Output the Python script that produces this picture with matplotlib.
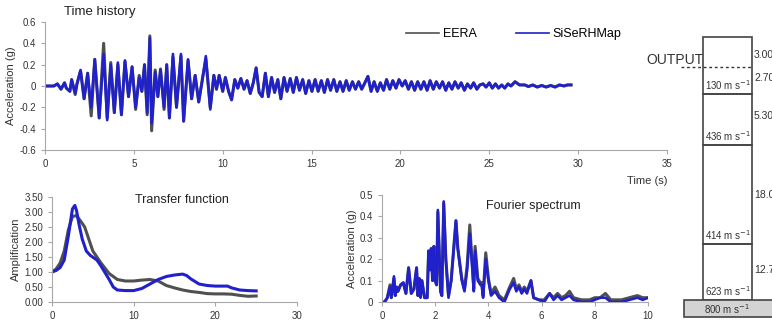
import matplotlib.pyplot as plt
from matplotlib.ticker import FuncFormatter
import matplotlib.patches as mpatches

plt.rcParams.update({
    "font.family": ["Liberation Sans", "DejaVu Sans"],
    "axes.spines.top": False,
    "axes.spines.right": False,
    "axes.edgecolor": "#a8a8a8",
    "axes.linewidth": 0.8,
    "xtick.color": "#a8a8a8",
    "ytick.color": "#a8a8a8",
    "xtick.labelcolor": "#333333",
    "ytick.labelcolor": "#333333",
    "xtick.labelsize": 7,
    "ytick.labelsize": 7,
    "xtick.major.size": 3,
    "ytick.major.size": 3,
    "axes.labelsize": 8,
    "axes.labelcolor": "#333333",
})
GREY = "#505050"
BLUE = "#2020cc"

# time history (turning points), seconds / g
th_head_time = [0, 0.5, 0.7, 0.9, 1.1, 1.2, 1.4, 1.5, 1.7, 1.8, 2.0, 2.2, 2.4, 2.6,
                2.8, 3.05, 3.3, 3.5, 3.7, 3.9, 4.1, 4.3, 4.5, 4.7, 4.9, 5.1, 5.3,
                5.45, 5.6, 5.75, 5.9, 6.0, 6.2, 6.35, 6.5, 6.7, 6.85, 7.0, 7.2,
                7.4, 7.65, 7.8, 8.05, 8.25, 8.45, 8.65, 8.85, 9.05, 9.3, 9.5,
                9.65, 9.8, 10.0]
th_head_eera = [0, 0.0, 0.02, -0.03, 0.03, -0.02, -0.05, 0.06, -0.08, 0.02, 0.14,
                -0.12, 0.12, -0.28, 0.25, -0.3, 0.4, -0.3, 0.22, -0.25, 0.2, -0.27,
                0.23, -0.1, 0.18, -0.22, 0.1, -0.05, 0.2, -0.27, 0.47, -0.42, 0.15,
                -0.1, 0.16, -0.22, 0.2, -0.3, 0.27, -0.2, 0.28, -0.33, 0.24, -0.12,
                0.1, -0.15, 0.06, 0.25, -0.2, 0.1, -0.03, 0.1, -0.05]
th_head_siserhmap = [0, 0.0, 0.02, -0.03, 0.03, -0.02, -0.05, 0.06, -0.07, 0.02, 0.15,
                     -0.12, 0.12, -0.2, 0.25, -0.3, 0.3, -0.32, 0.2, -0.25, 0.22, -0.27,
                     0.24, -0.1, 0.18, -0.2, 0.08, -0.05, 0.2, -0.25, 0.45, -0.35, 0.13,
                     -0.1, 0.15, -0.2, 0.2, -0.3, 0.3, -0.2, 0.3, -0.33, 0.25, -0.12,
                     0.1, -0.15, 0.05, 0.28, -0.22, 0.1, -0.03, 0.1, -0.05]
th_tail_time = [10.15, 10.33, 10.5, 10.68, 10.85, 11.02, 11.2, 11.37, 11.55, 11.72,
                11.88, 12.05, 12.22, 12.4, 12.57, 12.75, 12.92, 13.1, 13.27, 13.45,
                13.62, 13.8, 13.97, 14.15, 14.32, 14.5, 14.67, 14.85, 15.02, 15.2,
                15.37, 15.55, 15.72, 15.9, 16.07, 16.25, 16.42, 16.6, 16.77, 16.95,
                17.12, 17.3, 17.47, 17.65, 17.82, 18.0, 18.17, 18.35, 18.52, 18.7,
                18.87, 19.05, 19.22, 19.4, 19.57, 19.75, 19.92, 20.1, 20.27, 20.45,
                20.62, 20.8, 20.97, 21.15, 21.32, 21.5, 21.67, 21.85, 22.02, 22.2,
                22.37, 22.55, 22.72, 22.9, 23.07, 23.25, 23.42, 23.6, 23.77, 23.95,
                24.12, 24.3, 24.47, 24.65, 24.82, 25.0, 25.17, 25.35, 25.52, 25.7,
                25.87, 26.05, 26.22, 26.45, 26.7, 27.0, 27.2, 27.45, 27.7, 27.95,
                28.2, 28.45, 28.7, 28.95, 29.2, 29.4, 29.6]
th_tail_acc = [0.08, -0.05, -0.13, 0.06, -0.02, 0.07, -0.03, 0.05, -0.07, 0.03,
               0.17, -0.06, -0.1, 0.12, -0.1, 0.08, -0.06, 0.06, -0.12, 0.08,
               -0.05, 0.07, -0.06, 0.08, -0.04, 0.06, -0.07, 0.05, -0.05, 0.06,
               -0.05, 0.05, -0.06, 0.06, -0.04, 0.06, -0.05, 0.04, -0.05, 0.05,
               -0.04, 0.04, -0.03, 0.04, -0.03, 0.03, 0.09, -0.05, 0.04, -0.05,
               0.03, -0.04, 0.06, -0.03, 0.05, -0.02, 0.06, 0.0, 0.05, -0.03,
               0.04, -0.04, 0.04, -0.03, 0.04, -0.04, 0.05, -0.03, 0.04, -0.02,
               0.04, -0.04, 0.03, -0.03, 0.04, -0.02, 0.03, -0.04, 0.02, -0.02,
               0.03, -0.03, 0.01, 0.02, -0.01, 0.03, -0.02, 0.02, -0.02, 0.01,
               -0.02, 0.02, 0.0, 0.04, 0.01, 0.01, -0.005, 0.01, -0.01, 0.005,
               -0.01, 0.005, -0.01, 0.01, 0.0, 0.01, 0.01]

# transfer function
tf_freq_eera = [0, 0.5, 1, 1.5, 2, 2.5, 3, 3.5, 4, 4.5, 5, 5.5, 6, 7, 8, 9, 10, 11, 12,
                13, 14, 15, 16, 17, 18, 19, 20, 21, 22, 23, 24, 25]
tf_amp_eera = [1.0, 1.1, 1.3, 1.7, 2.4, 2.85, 2.88, 2.7, 2.5, 2.1, 1.7, 1.5, 1.3, 0.95,
               0.75, 0.7, 0.7, 0.73, 0.75, 0.7, 0.55, 0.47, 0.4, 0.35, 0.32, 0.28, 0.27,
               0.27, 0.26, 0.22, 0.19, 0.2]
tf_freq_siserhmap = [0, 0.5, 1, 1.5, 2, 2.5, 2.8, 3.0, 3.3, 3.7, 4.2, 4.7, 5.5, 6, 7, 7.5,
                     8, 9, 10, 11, 12, 13, 14, 15, 16, 16.5, 17, 18, 19, 20, 21, 21.5,
                     22, 23, 24, 25]
tf_amp_siserhmap = [1.0, 1.05, 1.15, 1.4, 2.2, 3.1, 3.22, 3.05, 2.6, 2.1, 1.7, 1.55,
                    1.4, 1.2, 0.75, 0.5, 0.4, 0.38, 0.38, 0.45, 0.6, 0.75, 0.85, 0.9,
                    0.93, 0.88, 0.77, 0.6, 0.55, 0.53, 0.53, 0.53, 0.47, 0.4, 0.38, 0.37]

# fourier spectrum
fs_freq = [0, 0.1, 0.2, 0.3, 0.35, 0.45, 0.5, 0.55, 0.6, 0.7, 0.8, 0.9, 1.0, 1.1, 1.2,
           1.3, 1.35, 1.4, 1.45, 1.5, 1.6, 1.7, 1.75, 1.8, 1.85, 1.9, 1.95, 2.0, 2.05,
           2.1, 2.2, 2.25, 2.32, 2.4, 2.5, 2.6, 2.7, 2.78, 2.85, 3.0, 3.1, 3.2, 3.3,
           3.4, 3.45, 3.5, 3.6, 3.7, 3.75, 3.8, 3.9, 4.0, 4.1, 4.25, 4.4, 4.6, 4.8,
           4.95, 5.05, 5.15, 5.25, 5.35, 5.45, 5.6, 5.7, 5.9, 6.1, 6.3, 6.45, 6.6,
           6.75, 6.9, 7.05, 7.2, 7.5, 7.8, 8.0, 8.2, 8.4, 8.6, 9.0, 9.3, 9.6, 9.8, 10.0]
fs_eera = [0, 0.0, 0.02, 0.08, 0.02, 0.11, 0.03, 0.07, 0.05, 0.08, 0.09, 0.04, 0.16,
           0.04, 0.06, 0.16, 0.03, 0.11, 0.03, 0.1, 0.02, 0.02, 0.23, 0.15, 0.25, 0.1,
           0.26, 0.1, 0.08, 0.42, 0.05, 0.03, 0.46, 0.2, 0.03, 0.1, 0.26, 0.38, 0.25,
           0.11, 0.06, 0.17, 0.36, 0.16, 0.06, 0.26, 0.11, 0.09, 0.09, 0.03, 0.23, 0.11,
           0.04, 0.07, 0.03, 0.01, 0.07, 0.11, 0.06, 0.08, 0.05, 0.07, 0.05, 0.1, 0.02,
           0.01, 0.01, 0.04, 0.02, 0.04, 0.02, 0.03, 0.05, 0.02, 0.01, 0.01, 0.02,
           0.02, 0.04, 0.01, 0.01, 0.02, 0.03, 0.02, 0.02]
fs_siserhmap = [0, 0.0, 0.02, 0.07, 0.02, 0.12, 0.03, 0.07, 0.05, 0.08, 0.09, 0.04,
                0.16, 0.04, 0.06, 0.16, 0.03, 0.11, 0.02, 0.1, 0.02, 0.02, 0.24, 0.15,
                0.25, 0.1, 0.26, 0.1, 0.08, 0.43, 0.05, 0.03, 0.47, 0.2, 0.02, 0.1,
                0.25, 0.38, 0.25, 0.1, 0.05, 0.15, 0.32, 0.15, 0.05, 0.24, 0.1, 0.08,
                0.08, 0.02, 0.2, 0.1, 0.03, 0.05, 0.02, 0.0, 0.06, 0.09, 0.05, 0.07,
                0.04, 0.06, 0.04, 0.1, 0.02, 0.01, 0.0, 0.04, 0.01, 0.03, 0.01, 0.02,
                0.03, 0.01, 0.0, 0.0, 0.01, 0.02, 0.02, 0.0, 0.0, 0.01, 0.02, 0.01, 0.02]

# soil column
layer_velocity = ["130 m s$^{-1}$", "436 m s$^{-1}$", "414 m s$^{-1}$", "623 m s$^{-1}$"]
bedrock_velocity = "800 m s$^{-1}$"
thickness_labels = ["3.00", "2.70", "5.30", "18.00", "12.70"]


def zero_fmt(v, pos):
    return "0" if abs(v) < 1e-9 else f"{v:g}"


fig = plt.figure(figsize=(7.72, 3.30), dpi=100)

# time history
ax1 = fig.add_axes([45/772, 1-150/330, 622/772, 128/330])
ax1.plot(th_head_time + th_tail_time, th_head_eera + th_tail_acc,
         color=GREY, lw=2.2, label="EERA")
ax1.plot(th_head_time + th_tail_time, th_head_siserhmap + th_tail_acc,
         color=BLUE, lw=1.9, label="SiSeRHMap")
ax1.set_xlim(0, 35)
ax1.set_ylim(-0.6, 0.6)
ax1.set_xticks(range(0, 36, 5))
ax1.set_yticks([-0.6, -0.4, -0.2, 0, 0.2, 0.4, 0.6])
ax1.yaxis.set_major_formatter(FuncFormatter(zero_fmt))
ax1.set_ylabel("Acceleration (g)", labelpad=2)
fig.text(64/772, 1-12/330, "Time history", fontsize=9.5, va="center", color="#222222")
fig.text(627/772, 1-181/330, "Time (s)", fontsize=8, va="center", color="#333333")
ax1.legend(loc="center left", bbox_to_anchor=(395/772, 1-34/330),
           bbox_transform=fig.transFigure, ncol=2, frameon=False, fontsize=9,
           handlelength=2.6, handletextpad=0.3, columnspacing=3.2)
for ln in ax1.get_legend().get_lines():
    ln.set_linewidth(1.2)

# transfer function
ax2 = fig.add_axes([52/772, 1-302/330, 245/772, 105/330])
ax2.plot(tf_freq_eera, tf_amp_eera, color=GREY, lw=2.2)
ax2.plot(tf_freq_siserhmap, tf_amp_siserhmap, color=BLUE, lw=2.2)
ax2.set_xlim(0, 30)
ax2.set_ylim(0, 3.5)
ax2.set_xticks([0, 10, 20, 30])
ax2.set_yticks([0, 0.5, 1, 1.5, 2, 2.5, 3, 3.5])
ax2.yaxis.set_major_formatter(FuncFormatter(lambda v, p: f"{v:.2f}"))
ax2.set_ylabel("Amplification", labelpad=2)
ax2.text(0.53, 0.97, "Transfer function", transform=ax2.transAxes, fontsize=9,
         ha="center", va="center", color="#222222")

# fourier spectrum
ax3 = fig.add_axes([382/772, 1-302/330, 266/772, 107/330])
ax3.plot(fs_freq, fs_eera, color=GREY, lw=2.2)
ax3.plot(fs_freq, fs_siserhmap, color=BLUE, lw=1.9)
ax3.set_xlim(0, 10)
ax3.set_ylim(0, 0.5)
ax3.set_xticks(range(0, 11, 2))
ax3.set_yticks([0, 0.1, 0.2, 0.3, 0.4, 0.5])
ax3.yaxis.set_major_formatter(FuncFormatter(zero_fmt))
ax3.set_ylabel("Acceleration (g)", labelpad=2)
ax3.text(0.39, 0.9, "Fourier spectrum", transform=ax3.transAxes, fontsize=9,
         ha="left", va="center", color="#222222")

# soil column drawn in figure pixel units
axc = fig.add_axes([0, 0, 1, 1])
axc.set_xlim(0, 772)
axc.set_ylim(330, 0)
axc.axis("off")
bounds = [37, 94, 145, 244, 300]
left, right = 703, 752
for top, bot, vel in zip(bounds[:-1], bounds[1:], layer_velocity):
    axc.add_patch(mpatches.Rectangle((left, top), right-left, bot-top, fill=False,
                                     edgecolor="#444444", lw=1.2))
    axc.text((left+right)/2 + 1, bot - 9, vel, ha="center", va="center",
             fontsize=7, color="#333333")
axc.add_patch(mpatches.Rectangle((684, 300), 100, 17, facecolor="#d3d3d3",
                                 edgecolor="#444444", lw=1.2))
axc.text(727, 309, bedrock_velocity, ha="center", va="center", fontsize=7,
         color="#333333")
axc.plot([681, 751], [67, 67], color="#333333", lw=1, ls=(0, (2, 2)))
axc.text(646, 60, "OUTPUT", fontsize=10, va="center", color="#333333")
for y, lab in zip([55, 78, 116, 195, 270], thickness_labels):
    axc.text(754, y, lab, fontsize=7.5, va="center", color="#333333")

fig.savefig("out.png", dpi=100)
